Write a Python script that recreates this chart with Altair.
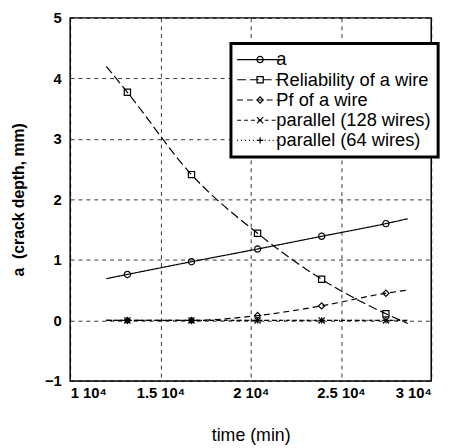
import altair as alt
import pandas as pd

# ---- data ----
series_names = ["a", "Reliability of a wire", "Pf of a wire",
                "parallel (128 wires)", "parallel (64 wires)"]
time_min = [12000, 13170, 16720, 20380, 23930, 27490, 28700]
has_marker = [False, True, True, True, True, True, False]
a_vals = [0.69, 0.76, 0.97, 1.18, 1.39, 1.60, 1.68]
rel_vals = [4.20, 3.77, 2.41, 1.44, 0.68, 0.11, -0.05]
pf_vals = [0.00, 0.00, 0.00, 0.08, 0.24, 0.45, 0.50]
p128_vals = [0.0, 0.0, 0.0, 0.0, 0.0, 0.0, 0.0]
p64_vals = [0.0, 0.0, 0.0, 0.0, 0.0, 0.0, 0.0]
x_ticks = [10000, 15000, 20000, 25000, 30000]
y_ticks = [-1, 0, 1, 2, 3, 4, 5]

marker_names = [s + " " for s in series_names]  # separate legend domain
all_vals = [a_vals, rel_vals, pf_vals, p128_vals, p64_vals]
rows = []
for name, mname, vals in zip(series_names, marker_names, all_vals):
    for t, v, m in zip(time_min, vals, has_marker):
        rows.append({"series": name, "mk": mname, "time": t, "value": v,
                     "marker": m})
df = pd.DataFrame(rows)

# ---- styles ----
dashes = [[1, 0], [9, 4], [6, 4], [4, 3], [1, 3]]
x_path = "M-1,-1L1,1M-1,1L1,-1"
plus_path = "M-1,0L1,0M0,-1L0,1"
marker_shapes = ["circle", "square", "diamond", x_path, plus_path]

FONT = "Liberation Sans"
LX, LY = 163, 26
PAD = 7

x_enc = alt.X("time:Q", scale=alt.Scale(domain=[10000, 30000], nice=False),
              axis=alt.Axis(values=x_ticks,
                            labelExpr="datum.value / 10000 + ' 10\u2074'",
                            title="time (min)", titlePadding=26,
                            labelPadding=5))
y_enc = alt.Y("value:Q", scale=alt.Scale(domain=[-1, 5], nice=False),
              axis=alt.Axis(values=y_ticks, format="d",
                            title="a\u00a0 (crack depth, mm)",
                            titlePadding=18, labelPadding=9,
                            titleFontWeight="bold", titleFontSize=16))

lines = alt.Chart(df).mark_line(
    interpolate="monotone", strokeWidth=1.2, color="black"
).encode(
    x=x_enc, y=y_enc,
    detail="series:N",
    strokeDash=alt.StrokeDash(
        "series:N",
        scale=alt.Scale(domain=series_names, range=dashes),
        legend=alt.Legend(
            title=None, orient="none", legendX=LX, legendY=LY,
            labelFontSize=18.5, labelFont=FONT, labelColor="black",
            symbolType="M-4.3,0L4.3,0", symbolSize=100,
            symbolOffset=11.5, labelOffset=9,
            symbolStrokeColor="black", symbolStrokeWidth=1.2,
            rowPadding=1.5, padding=PAD,
            fillColor="white", strokeColor="black", zindex=1,
        ),
    ),
)

points = alt.Chart(df).transform_filter(
    alt.datum.marker == True
).mark_point(filled=False, color="black", strokeWidth=1.2,
             opacity=1, size=40).encode(
    x="time:Q", y="value:Q",
    shape=alt.Shape(
        "mk:N",
        scale=alt.Scale(domain=marker_names, range=marker_shapes),
        legend=alt.Legend(
            title=None, orient="none", legendX=LX, legendY=LY,
            labelFontSize=18.5, labelFont=FONT, labelExpr="' '",
            symbolSize=40, symbolOffset=13.3, labelOffset=9,
            symbolStrokeColor="black", symbolStrokeWidth=1.2,
            rowPadding=1.5, padding=PAD, zindex=2,
        ),
    ),
)

chart = alt.layer(lines, points).properties(
    width=366, height=368,
    autosize=alt.AutoSizeParams(type="none"),
    padding={"left": 63, "top": 7, "right": 17, "bottom": 66},
).configure_view(
    stroke="black", strokeWidth=1.5
).configure_axis(
    domain=False, ticks=False,
    grid=True, gridColor="black", gridDash=[4, 4], gridWidth=0.8, gridOpacity=1,
    labelFont=FONT, labelFontSize=15, labelFontWeight="bold", labelColor="black",
    titleFont=FONT, titleFontSize=18, titleFontWeight="normal", titleColor="black",
).configure_legend(
    strokeWidth=3
)

chart.save("out.html", embed_options={"renderer": "svg", "actions": False})
